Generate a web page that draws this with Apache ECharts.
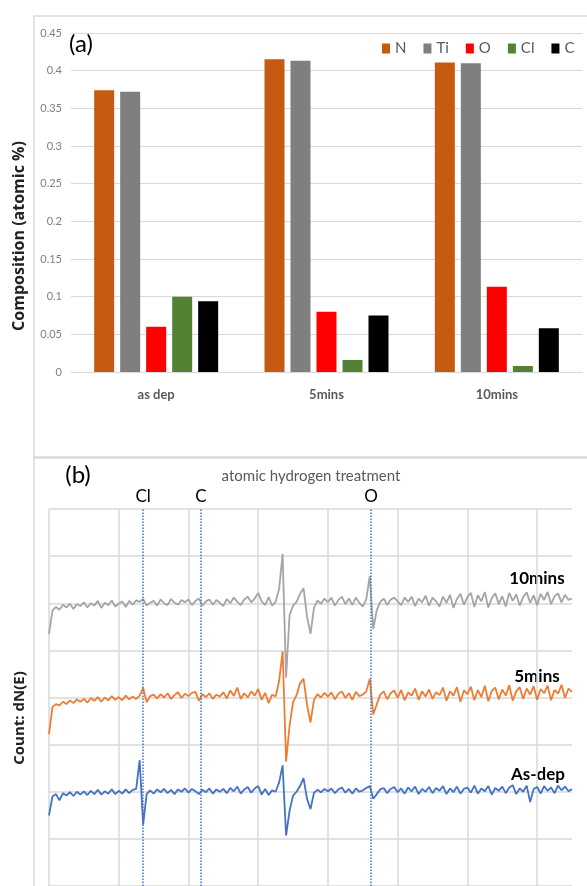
<!DOCTYPE html>
<html>
<head>
<meta charset="utf-8">
<script src="https://cdn.jsdelivr.net/npm/echarts@6/dist/echarts.min.js"></script>
<style>
  html, body { margin: 0; padding: 0; background: #fff; }
  #chart { width: 587px; height: 886px; }
</style>
</head>
<body>
<div id="chart"></div>
<script>
// (a) composition by treatment time
const treatments = ["as dep", "5mins", "10mins"];
const elements = ["N", "Ti", "O", "Cl", "C"];
const elementColors = ["#C55A11", "#7F7F7F", "#FF0000", "#548235", "#000000"];
const compN = [0.374, 0.415, 0.411];
const compTi = [0.372, 0.413, 0.410];
const compO = [0.060, 0.080, 0.113];
const compCl = [0.100, 0.016, 0.008];
const compC = [0.094, 0.075, 0.058];
const compositions = [compN, compTi, compO, compCl, compC];

// (b) dN(E) spectra, sampled every 5 units along the scan
const scanStep = 5;
const tenMins = [
  5.35, 5.85, 5.92, 5.86, 5.97, 5.91, 5.99, 5.88, 5.98, 5.94,
  6.02, 5.91, 6.00, 5.95, 6.05, 5.90, 6.01, 5.96, 6.06, 5.93,
  5.99, 6.04, 5.92, 6.05, 5.97, 6.06, 6.03, 6.09, 5.95, 6.01,
  6.05, 5.95, 6.08, 6.00, 5.96, 6.09, 6.01, 5.97, 6.07, 6.02,
  6.08, 5.96, 6.05, 6.10, 5.95, 6.04, 6.08, 5.97, 6.07, 6.01,
  5.94, 6.09, 6.00, 6.12, 6.03, 5.96, 6.08, 6.14, 6.02, 6.10,
  6.22, 6.04, 5.96, 6.13, 5.95, 6.03, 6.30, 7.05, 4.42, 5.75,
  5.95, 6.03, 6.20, 6.32, 5.72, 5.35, 5.90, 6.06, 5.99, 6.10,
  6.02, 6.12, 5.95, 6.07, 6.14, 5.98, 6.10, 5.96, 6.12, 6.01,
  5.93, 6.09, 6.58, 5.45, 5.85, 6.03, 6.10, 5.96, 6.08, 6.12,
  6.04, 5.96, 6.12, 6.03, 6.14, 5.94, 6.10, 6.02, 6.16, 5.95,
  6.12, 6.04, 5.93, 6.14, 6.01, 6.18, 5.90, 6.09, 6.20, 5.97,
  6.13, 6.22, 5.92, 6.17, 6.04, 6.24, 5.91, 6.11, 6.21, 5.98,
  6.15, 5.93, 6.22, 6.05, 6.19, 5.95, 6.13, 6.23, 6.01, 6.17,
  5.96, 6.20, 6.07, 6.24, 5.98, 6.15, 6.21, 6.02, 6.18, 6.07,
  6.10
];
const fiveMins = [
  3.22, 3.80, 3.86, 3.83, 3.91, 3.86, 3.94, 3.88, 3.96, 3.91,
  3.97, 3.89, 3.99, 3.93, 4.01, 3.91, 4.00, 3.94, 4.03, 3.95,
  4.01, 3.94, 4.04, 3.96, 4.02, 3.97, 4.04, 4.20, 3.90, 4.03,
  4.06, 3.98, 4.07, 4.00, 4.09, 3.97, 4.05, 4.11, 3.99, 4.08,
  4.03, 4.10, 4.12, 3.93, 4.07, 4.01, 4.09, 3.97, 4.06, 4.02,
  4.11, 3.98, 4.15, 4.03, 4.21, 3.97, 4.09, 4.00, 4.13, 4.04,
  4.18, 3.95, 4.10, 3.88, 4.06, 4.02, 4.35, 4.98, 2.64, 3.40,
  3.90, 4.05, 4.30, 4.40, 3.85, 3.47, 3.95, 4.07, 4.00, 4.10,
  4.02, 4.11, 3.96, 4.08, 4.13, 3.99, 4.09, 3.95, 4.12, 4.03,
  4.06, 4.13, 4.40, 3.64, 3.85, 4.06, 4.13, 3.96, 4.09, 4.15,
  3.99, 4.16, 3.94, 4.11, 4.04, 4.19, 3.95, 4.13, 4.02, 4.17,
  3.97, 4.11, 4.05, 4.21, 3.93, 4.13, 4.04, 4.22, 3.91, 4.15,
  4.07, 4.23, 3.94, 4.16, 4.01, 4.25, 3.92, 4.14, 4.21, 3.96,
  4.17, 4.04, 4.26, 3.93, 4.13, 4.22, 3.97, 4.19, 4.06, 4.24,
  3.95, 4.18, 4.09, 4.25, 3.94, 4.16, 4.08, 4.27, 3.99, 4.19,
  4.12
];
const asDep = [
  1.50, 1.90, 1.95, 1.82, 1.97, 1.92, 1.99, 1.91, 2.00, 1.94,
  2.01, 1.93, 2.02, 1.95, 2.04, 1.94, 2.01, 1.96, 2.05, 1.95,
  2.02, 1.96, 2.05, 1.97, 2.04, 2.06, 2.67, 1.30, 1.95, 2.03,
  1.96, 2.05, 1.99, 2.06, 1.97, 2.04, 1.95, 2.05, 2.00, 2.07,
  1.98, 2.06, 2.01, 1.95, 2.04, 1.99, 2.07, 1.96, 2.05, 2.00,
  2.06, 1.97, 2.08, 2.01, 2.11, 1.96, 2.05, 2.10, 1.98, 2.07,
  2.12, 1.94, 2.06, 1.93, 2.03, 2.00, 2.20, 2.56, 1.07, 1.60,
  1.92, 2.00, 2.12, 2.29, 1.85, 1.63, 1.98, 2.04, 1.99, 2.06,
  2.01, 2.07, 1.97, 2.05, 2.09, 1.98, 2.06, 1.96, 2.07, 2.00,
  2.03, 2.08, 2.12, 1.85, 1.95, 2.05, 2.08, 1.97, 2.06, 2.10,
  1.99, 2.07, 1.96, 2.09, 2.01, 2.11, 1.95, 2.06, 2.00, 2.10,
  1.97, 2.08, 2.02, 2.12, 1.95, 2.07, 1.99, 2.11, 1.96, 2.06,
  2.09, 1.98, 2.13, 1.96, 2.07, 2.01, 2.12, 1.94, 2.08, 2.02,
  2.11, 1.97, 2.09, 2.14, 1.95, 2.07, 2.00, 2.13, 1.78, 2.06,
  2.10, 1.96, 2.12, 2.02, 2.09, 1.97, 2.13, 2.03, 2.11, 2.01,
  2.06
];
const markerNames = ["Cl", "C", "O"];
const markerPos = [135, 218, 462];

const calibriLike = "Lato, 'Open Sans', sans-serif";
const gridColor = "#d9d9d9";

const toPairs = arr => arr.map((v, i) => [i * scanStep, v]);

const barSeries = elements.map((el, i) => ({
    name: el,
    type: "bar",
    xAxisIndex: 0,
    yAxisIndex: 0,
    data: compositions[i],
    barWidth: 20,
    barGap: "30%",
    itemStyle: { color: elementColors[i] }
}));

const option = {
    animation: false,
    legend: {
        data: elements,
        left: 377,
        top: 36,
        width: 220,
        icon: "rect",
        itemWidth: 8,
        itemHeight: 10,
        itemGap: 17,
        textStyle: { fontSize: 15, color: "#595959", fontFamily: calibriLike }
    },
    grid: [
        { left: 71, top: 33, width: 511, height: 339, containLabel: false },
        { left: 49, top: 509, width: 523, height: 387, containLabel: false }
    ],
    xAxis: [
        {
            gridIndex: 0,
            type: "category",
            data: treatments,
            axisLine: { lineStyle: { color: gridColor } },
            axisTick: { show: false },
            axisLabel: { fontSize: 13, fontWeight: "bold", color: "#595959", margin: 16, fontFamily: calibriLike }
        },
        {
            gridIndex: 1,
            type: "value",
            min: 0,
            max: 750,
            interval: 100,
            axisLine: { show: false },
            axisTick: { show: false },
            axisLabel: { show: false },
            splitLine: { show: true, showMaxLine: false, lineStyle: { color: gridColor, width: 1.5 } }
        }
    ],
    yAxis: [
        {
            gridIndex: 0,
            type: "value",
            min: 0,
            max: 0.45,
            interval: 0.05,
            axisLine: { show: false },
            axisTick: { show: false },
            axisLabel: { fontSize: 11, color: "#7F7F7F", margin: 9, fontFamily: calibriLike },
            splitLine: { lineStyle: { color: gridColor, width: 1 } }
        },
        {
            gridIndex: 1,
            type: "value",
            min: 0,
            max: 8,
            interval: 1,
            axisLine: { show: false },
            axisTick: { show: false },
            axisLabel: { show: false },
            splitLine: { lineStyle: { color: gridColor, width: 1.5 } }
        }
    ],
    series: barSeries.concat([
        {
            name: "10mins",
            type: "line",
            xAxisIndex: 1,
            yAxisIndex: 1,
            data: toPairs(tenMins),
            showSymbol: false,
            lineStyle: { color: "#A5A5A5", width: 1.8 }
        },
        {
            name: "5mins",
            type: "line",
            xAxisIndex: 1,
            yAxisIndex: 1,
            data: toPairs(fiveMins),
            showSymbol: false,
            lineStyle: { color: "#ED7D31", width: 1.8 }
        },
        {
            name: "As-dep",
            type: "line",
            xAxisIndex: 1,
            yAxisIndex: 1,
            data: toPairs(asDep),
            showSymbol: false,
            lineStyle: { color: "#4472C4", width: 1.8 },
            markLine: {
                silent: true,
                symbol: ["none", "none"],
                lineStyle: { color: "#4472C4", type: "dotted", width: 1.5 },
                label: {
                    position: "end",
                    distance: 4,
                    color: "#000",
                    fontSize: 17,
                    fontFamily: calibriLike,
                    formatter: p => p.name
                },
                data: markerNames.map((n, i) => ({ name: n, xAxis: markerPos[i] }))
            }
        }
    ]),
    graphic: [
        { type: "rect", shape: { x: 34, y: 16, width: 600, height: 441 }, style: { fill: "none", stroke: gridColor, lineWidth: 1.5 }, z: -1 },
        { type: "rect", shape: { x: 34, y: 458, width: 600, height: 500 }, style: { fill: "none", stroke: gridColor, lineWidth: 1.5 }, z: -1 },
        { type: "text", x: 81, y: 44, style: { text: "(a)", fontSize: 24, fill: "#000", align: "center", verticalAlign: "middle", fontFamily: calibriLike } },
        { type: "text", x: 78, y: 475, style: { text: "(b)", fontSize: 24, fill: "#000", align: "center", verticalAlign: "middle", fontFamily: calibriLike } },
        { type: "text", x: 19, y: 236, rotation: Math.PI / 2, style: { text: "Composition (atomic %)", fontSize: 16, fontWeight: "bold", fill: "#222", align: "center", verticalAlign: "middle", fontFamily: "'Open Sans', sans-serif" } },
        { type: "text", x: 20, y: 718, rotation: Math.PI / 2, style: { text: "Count: dN(E)", fontSize: 15, fontWeight: "bold", fill: "#222", align: "center", verticalAlign: "middle", fontFamily: "'Open Sans', sans-serif" } },
        { type: "text", x: 311, y: 476, style: { text: "atomic hydrogen treatment", fontSize: 15, fill: "#595959", align: "center", verticalAlign: "middle", fontFamily: calibriLike } },
        { type: "text", x: 537, y: 579, style: { text: "10mins", fontSize: 17, fontWeight: "bold", fill: "#000", align: "center", verticalAlign: "middle", fontFamily: calibriLike } },
        { type: "text", x: 537, y: 677, style: { text: "5mins", fontSize: 17, fontWeight: "bold", fill: "#000", align: "center", verticalAlign: "middle", fontFamily: calibriLike } },
        { type: "text", x: 538, y: 775, style: { text: "As-dep", fontSize: 17, fontWeight: "bold", fill: "#000", align: "center", verticalAlign: "middle", fontFamily: calibriLike } }
    ]
};

const chart = echarts.init(document.getElementById("chart"));
chart.setOption(option);
</script>
</body>
</html>
